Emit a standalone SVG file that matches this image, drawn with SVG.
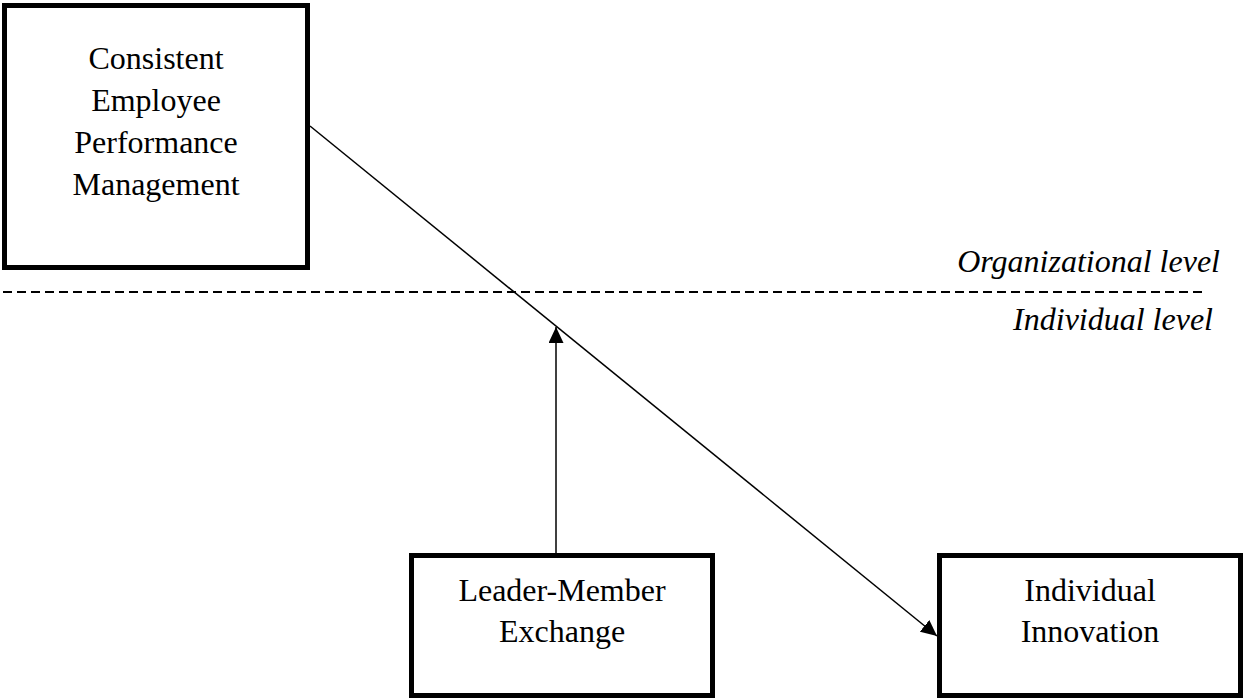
<svg xmlns="http://www.w3.org/2000/svg" width="1245" height="700" viewBox="0 0 1245 700">
<style>
.box{fill:#fff;stroke:#000;stroke-width:5}
.t{font-family:"Liberation Serif","Times New Roman",serif;font-size:32px;fill:#000;text-anchor:middle}
.lvl{font-family:"Liberation Serif","Times New Roman",serif;font-size:32px;font-style:italic;fill:#000;text-anchor:end}
.c{stroke:#000;stroke-width:1.5;fill:none}
</style>
<defs>
<marker id="ah" markerWidth="16" markerHeight="15" refX="16" refY="7.5" orient="auto" markerUnits="userSpaceOnUse">
<path d="M0,0 L16,7.5 L0,15 Z" fill="#000"/>
</marker>
</defs>
<rect width="1245" height="700" fill="#fff"/>
<g id="levels">
<line x1="3" y1="292" x2="1203" y2="292" stroke="#000" stroke-width="2" stroke-dasharray="9,5"/>
<text class="lvl" x="1220" y="272">Organizational level</text>
<text class="lvl" x="1213" y="330">Individual level</text>
</g>
<g id="connectors">
<line class="c" x1="310" y1="126" x2="937" y2="636" marker-end="url(#ah)"/>
<line class="c" x1="556" y1="553" x2="556" y2="327" marker-end="url(#ah)"/>
</g>
<g id="node-cepm">
<rect class="box" x="4.5" y="5.5" width="303" height="262"/>
<text class="t" x="156" y="69">Consistent</text>
<text class="t" x="156" y="111">Employee</text>
<text class="t" x="156" y="153">Performance</text>
<text class="t" x="156" y="195">Management</text>
</g>
<g id="node-lmx">
<rect class="box" x="411.5" y="555.5" width="301" height="140"/>
<text class="t" x="562" y="601">Leader-Member</text>
<text class="t" x="562" y="642">Exchange</text>
</g>
<g id="node-innovation">
<rect class="box" x="939.5" y="555.5" width="301" height="140"/>
<text class="t" x="1090" y="601">Individual</text>
<text class="t" x="1090" y="642">Innovation</text>
</g>
</svg>
